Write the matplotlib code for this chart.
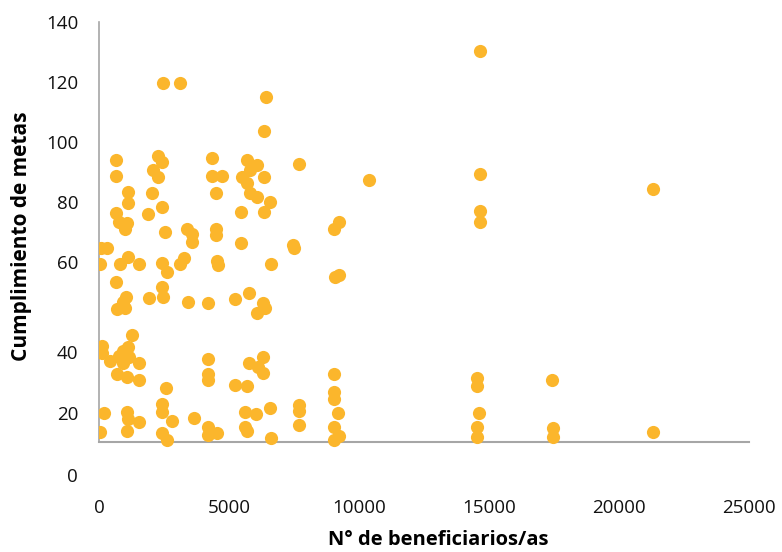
import matplotlib
matplotlib.use("Agg")
import matplotlib.pyplot as plt

# N° de beneficiarios/as vs cumplimiento de metas
beneficiarios = [
    2460, 3120, 6420, 6350, 14650,
    650, 650, 2270, 2420, 2080, 2270, 1115, 1115, 2040, 2420, 1885, 650, 770,
    1080, 1000, 2540, 3385, 3580, 3580, 80, 310, 4350, 4350, 4730, 4500,
    5690, 6080, 5810, 5500, 5690, 6350, 5810, 6080, 6580, 6350, 5460, 7690,
    4500, 4500, 5460, 7460, 7500, 10385, 9040, 9230,
    40, 810, 1115, 1540, 2420, 2615, 3115, 3270, 4540, 4580, 6615, 9080, 9230,
    650, 1040, 920, 690, 1000, 1920, 2420, 2460, 3420, 4190, 5230, 5770,
    6310, 6080, 6385, 1270,
    115, 115, 420, 770, 920, 1115, 1150, 920, 1540, 690, 1080, 1540,
    4190, 4190, 4190, 5770, 6115, 6310, 6310, 5230, 5690, 2580,
    9040, 9040, 9040, 14540, 14540, 17420,
    190, 1080, 1115, 1540, 1080, 40, 2420, 2420, 2810, 2420, 2615, 3650,
    4190, 4190, 4540, 5615, 6040, 6580, 5615, 5690, 6615, 7690, 7690, 7690,
    9190, 9040, 9230, 9040, 14615, 14540, 14540, 17460, 17460, 21310,
    14650, 14650, 14650, 21310,
]
cumplimiento = [
    119.7, 119.7, 115, 103.7, 130.3,
    94, 88.7, 95.3, 93.3, 90.7, 88.3, 83.3, 79.7, 83, 78.3, 76, 76.3, 73.3,
    73, 71, 70, 71, 69.3, 66.7, 64.7, 64.7, 94.7, 88.7, 88.7, 83,
    94, 92.3, 90.7, 88.3, 86.3, 88.3, 83, 81.7, 80, 76.7, 76.7, 92.7,
    71, 69, 66.3, 65.7, 64.7, 87.3, 71, 73.3,
    59.3, 59.3, 61.7, 59.3, 59.7, 56.7, 59.3, 61.3, 60.3, 59, 59.3, 55, 55.7,
    53.3, 48.3, 46.7, 44.3, 44.7, 48, 51.7, 48.3, 46.7, 46.3, 47.7, 49.7,
    46.3, 43, 44.7, 35.7,
    32, 29.7, 27, 28.7, 30.3, 31.7, 28.3, 26.3, 26.3, 22.7, 21.7, 20.7,
    27.7, 22.7, 20.7, 26.3, 25, 28.3, 23, 19, 18.7, 18,
    22.7, 16.7, 14.3, 21.3, 18.7, 20.7,
    9.7, 10, 7.7, 6.7, 3.7, 3.3, 12.7, 10, 7, 3, 0.7, 8,
    5, 2.3, 3, 10, 9.3, 11.3, 5, 3.7, 1.3, 12.3, 10.3, 5.7,
    9.7, 5, 2, 0.7, 9.7, 5, 1.7, 4.7, 1.7, 3.3,
    89.3, 77, 73.3, 84.3,
]

xticks = [0, 5000, 10000, 15000, 20000, 25000]
# the y labels below 60 sit lower than the linear scale in the original
ytick_pos = [-11, 9.7, 30, 60, 80, 100, 120, 140]
ytick_labels = ["0", "20", "40", "60", "80", "100", "120", "140"]

plt.rcParams['font.family'] = ['Open Sans', 'DejaVu Sans']

fig = plt.figure(figsize=(7.82, 5.52), dpi=100)
ax = fig.add_axes([99 / 782, 1 - 478 / 552, 650 / 782, 456 / 552])

ax.scatter(beneficiarios, cumplimiento, s=90, color='#FBB62C', linewidths=0, zorder=3)

ax.set_xlim(0, 25000)
ax.set_ylim(-12, 140)
ax.set_xticks(xticks)
ax.set_xticklabels([str(v) for v in xticks])
ax.set_yticks(ytick_pos)
ax.set_yticklabels(ytick_labels)
ax.tick_params(axis='both', length=0, labelsize=13.5, colors='#111111')
ax.tick_params(axis='x', pad=15)
ax.tick_params(axis='y', pad=15)

for s in ['top', 'right', 'bottom']:
    ax.spines[s].set_visible(False)
ax.spines['left'].set_bounds(0, 140)
ax.spines['left'].set_color('#A6A6A6')
ax.spines['left'].set_linewidth(1.2)
ax.plot([0, 25000], [0, 0], color='#A6A6A6', linewidth=1.5, zorder=2, clip_on=False)

fig.text(22 / 782, 1 - 236 / 552, "Cumplimiento de metas", rotation=90,
         ha='center', va='center', fontsize=15, fontweight='bold')
fig.text(438 / 782, 1 - 540 / 552, "N° de beneficiarios/as",
         ha='center', va='center', fontsize=14.5, fontweight='bold')

fig.savefig("out.png", dpi=100)
